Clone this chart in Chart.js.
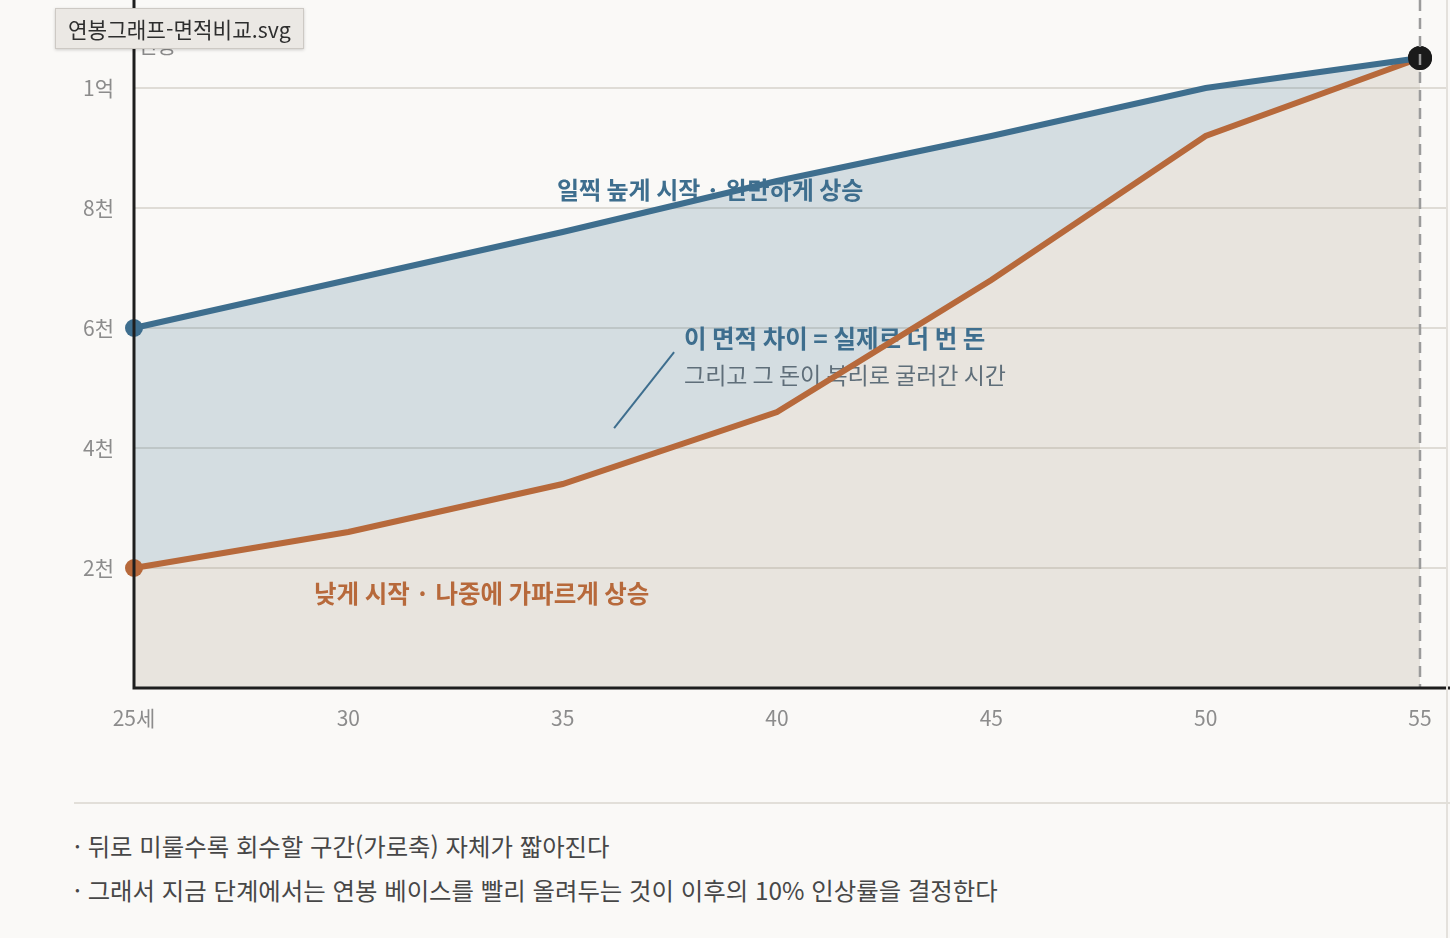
<!DOCTYPE html>
<html lang="ko">
<head>
<meta charset="utf-8">
<script src="https://cdn.jsdelivr.net/npm/chart.js@4"></script>
<style>
  html, body { margin: 0; padding: 0; background: #faf9f7; width: 1450px; height: 938px; overflow: hidden; }
  body { position: relative; font-family: "Noto Sans CJK KR", "Noto Sans", sans-serif; }
  #graph { position: absolute; left: 0; top: 0; }
  .sep { position: absolute; left: 74px; top: 802px; width: 1376px; height: 2px; background: #e2dfd9; }
  .note { position: absolute; left: 74px; font-size: 24.4px; color: #474747; line-height: 30px; white-space: nowrap; }
  .edge { position: absolute; left: 1446px; top: 0; width: 2px; height: 938px; background: #e4e1dc; }
  .tip { position: absolute; left: 55px; top: 8px; padding: 0 12px; height: 39px; line-height: 39px;
         background: #ebe8e4; border: 1px solid #cdc9c4; box-shadow: 0 1px 3px rgba(0,0,0,0.18);
         font-size: 21.3px; color: #2e2e2e; white-space: nowrap; }
</style>
</head>
<body>
<canvas id="graph" width="1450" height="760"></canvas>
<div class="edge"></div>
<div class="sep"></div>
<div class="note" style="top:831px">· 뒤로 미룰수록 회수할 구간(가로축) 자체가 짧아진다</div>
<div class="note" style="top:875px">· 그래서 지금 단계에서는 연봉 베이스를 빨리 올려두는 것이 이후의 10% 인상률을 결정한다</div>
<div class="tip">연봉그래프-면적비교.svg</div>
<script>
// 나이(세)
const ages = [25, 30, 35, 40, 45, 50, 55];
// 연봉 (만원)
const earlyHigh = [6000, 6800, 7600, 8450, 9200, 10000, 10500];
const lateSteep = [2000, 2600, 3400, 4600, 6800, 9200, 10500];
const ageTicks = [25, 30, 35, 40, 45, 50, 55];
const salaryTicks = [2000, 4000, 6000, 8000, 10000];
const salaryLabels = ['2천', '4천', '6천', '8천', '1억'];

const BLUE = '#3e6e8e';
const ORANGE = '#b7693b';
const FONT = '"Noto Sans CJK KR", "Noto Sans", sans-serif';

const toPoints = (ys) => ages.map((a, i) => ({x: a, y: ys[i]}));
const lastIdx = ages.length - 1;

const annotate = {
    id: 'annotate',
    beforeDatasetsDraw(chart) {
        const {ctx, scales: {x, y}} = chart;
        ctx.save();
        ctx.textBaseline = 'middle';
        ctx.fillStyle = BLUE;
        ctx.font = 'bold 24px ' + FONT;
        ctx.textAlign = 'center';
        ctx.fillText('일찍 높게 시작 · 완만하게 상승', x.getPixelForValue(38.44), y.getPixelForValue(8300));
        ctx.textAlign = 'left';
        ctx.font = 'bold 24.5px ' + FONT;
        ctx.fillText('이 면적 차이 = 실제로 더 번 돈', x.getPixelForValue(37.83), y.getPixelForValue(5830));
        ctx.fillStyle = '#5f6e79';
        ctx.font = '23px ' + FONT;
        ctx.fillText('그리고 그 돈이 복리로 굴러간 시간', x.getPixelForValue(37.83), y.getPixelForValue(5220));
        ctx.fillStyle = ORANGE;
        ctx.font = 'bold 24.5px ' + FONT;
        ctx.fillText('낮게 시작 · 나중에 가파르게 상승', x.getPixelForValue(29.2), y.getPixelForValue(1570));
        // 안내선
        ctx.strokeStyle = BLUE;
        ctx.lineWidth = 2;
        ctx.beginPath();
        ctx.moveTo(x.getPixelForValue(36.2), y.getPixelForValue(4330));
        ctx.lineTo(x.getPixelForValue(37.6), y.getPixelForValue(5600));
        ctx.stroke();
        // 축 제목
        ctx.fillStyle = '#8a8a8a';
        ctx.font = '21px ' + FONT;
        ctx.fillText('연봉', x.left + 4, 45);
        ctx.restore();
    },
    afterDatasetsDraw(chart) {
        const {ctx, chartArea, scales: {x, y}} = chart;
        ctx.save();
        // 55세 점선
        const px = x.getPixelForValue(55);
        ctx.strokeStyle = '#9b9b9b';
        ctx.lineWidth = 2.5;
        ctx.setLineDash([11, 7]);
        ctx.beginPath();
        ctx.moveTo(px, 0);
        ctx.lineTo(px, chartArea.bottom);
        ctx.stroke();
        // 축
        ctx.setLineDash([]);
        ctx.strokeStyle = '#1e1e1e';
        ctx.lineWidth = 3;
        ctx.beginPath();
        ctx.moveTo(chartArea.left, 0);
        ctx.lineTo(chartArea.left, chartArea.bottom);
        ctx.lineTo(1450, chartArea.bottom);
        ctx.stroke();
        ctx.restore();
    }
};

const noPad = (s) => { s.paddingTop = 0; s.paddingBottom = 0; s.paddingLeft = 0; s.paddingRight = 0; };

const data = {
    datasets: [{
        label: '일찍 높게 시작',
        data: toPoints(earlyHigh),
        borderColor: BLUE,
        borderWidth: 6,
        backgroundColor: 'rgba(62,110,142,0.2)',
        fill: '+1',
        pointRadius: (c) => c.dataIndex === 0 ? 9 : (c.dataIndex === lastIdx ? 12 : 0),
        pointBackgroundColor: (c) => c.dataIndex === lastIdx ? '#1a1a1a' : BLUE,
        pointBorderWidth: 0,
        clip: false
    }, {
        label: '낮게 시작',
        data: toPoints(lateSteep),
        borderColor: ORANGE,
        borderWidth: 6,
        backgroundColor: 'rgba(165,150,130,0.21)',
        fill: 'origin',
        pointRadius: (c) => c.dataIndex === 0 ? 9 : (c.dataIndex === lastIdx ? 12 : 0),
        pointBackgroundColor: (c) => c.dataIndex === lastIdx ? '#1a1a1a' : ORANGE,
        pointBorderWidth: 0,
        clip: false
    }]
};

const config = {
    type: 'line',
    data: data,
    options: {
        responsive: false,
        animation: false,
        layout: { autoPadding: false, padding: { top: 0, right: 3, left: 0, bottom: 0 } },
        plugins: {
            legend: { display: false },
            tooltip: { enabled: false },
            filler: { drawTime: 'beforeDatasetsDraw' }
        },
        scales: {
            x: {
                type: 'linear',
                min: 25,
                max: 55.63,
                afterBuildTicks: (s) => { s.ticks = ageTicks.map(v => ({value: v})); },
                afterFit: (s) => { s.height = 72; noPad(s); },
                grid: { display: false, drawTicks: false },
                border: { display: false },
                ticks: {
                    padding: 17,
                    color: '#8c8c8c',
                    font: { family: FONT, size: 21 },
                    callback: (v) => v === 25 ? '25세' : String(v)
                }
            },
            y: {
                min: 0,
                max: 11467,
                afterBuildTicks: (s) => { s.ticks = salaryTicks.map(v => ({value: v})); },
                afterFit: (s) => { s.width = 134; noPad(s); },
                grid: { color: '#dfdcd6', lineWidth: 2, drawTicks: false },
                border: { display: false },
                ticks: {
                    padding: 20,
                    color: '#8c8c8c',
                    font: { family: FONT, size: 21 },
                    callback: (v) => salaryLabels[salaryTicks.indexOf(v)]
                }
            }
        }
    },
    plugins: [annotate]
};

const graph = document.querySelector('#graph');
new Chart(graph, config);
</script>
</body>
</html>
